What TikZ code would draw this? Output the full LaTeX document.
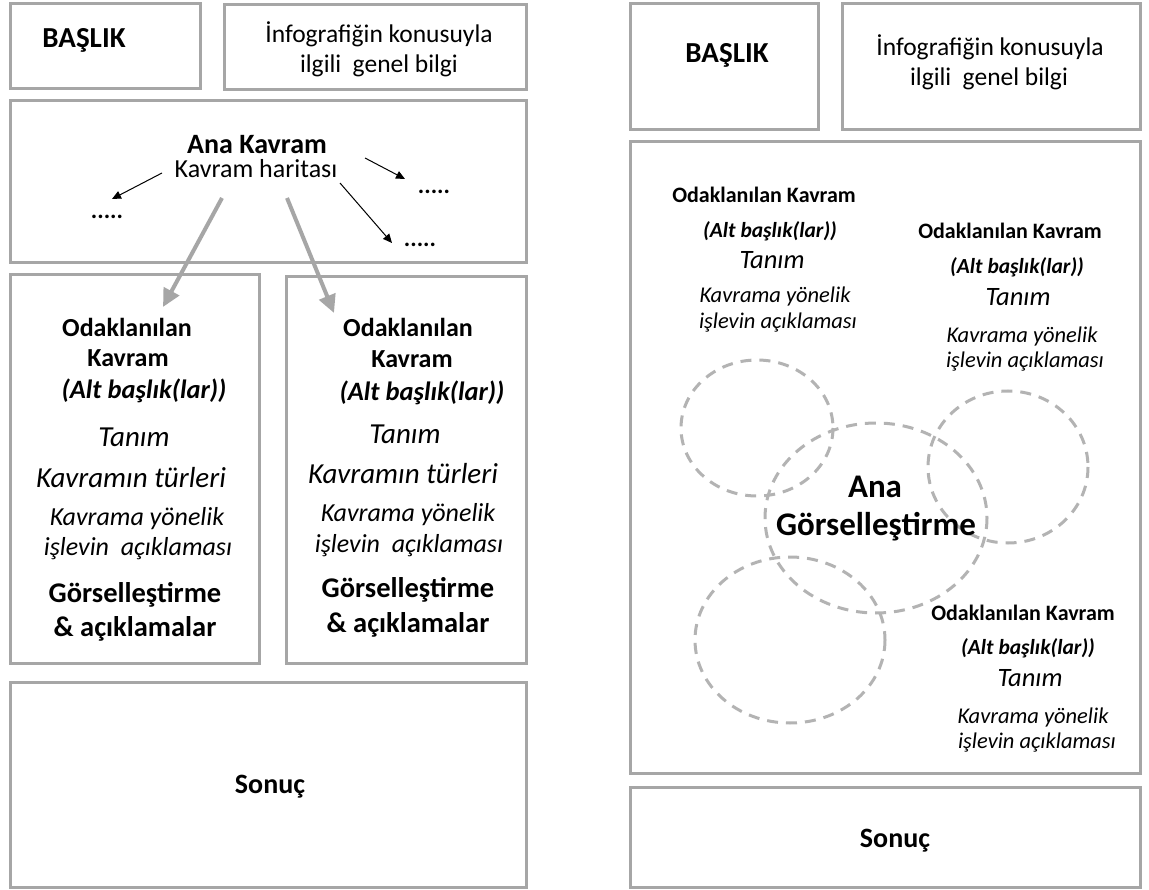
\documentclass[tikz,border=0pt]{standalone}
\usepackage{fontspec}
\setmainfont{Carlito}
\usetikzlibrary{arrows.meta}
\definecolor{boxgray}{HTML}{A6A6A6}
\definecolor{dashgray}{HTML}{B3B3B3}
\tikzset{
  panel/.style={draw=boxgray,line width=3pt},
  txt/.style={inner sep=0pt,anchor=center,text=black},
  fs/.style={font=\fontsize{#1}{#1}\selectfont},
  fsb/.style={font=\fontsize{#1}{#1}\selectfont\bfseries},
  fsi/.style={font=\fontsize{#1}{#1}\selectfont\itshape},
  fsbi/.style={font=\fontsize{#1}{#1}\selectfont\bfseries\itshape},
  thinarrow/.style={draw=black,line width=1pt,-{Triangle[length=9pt,width=8pt]}},
  grayarrow/.style={draw=boxgray,line width=4pt,-{Triangle[length=18pt,width=17pt]}},
  blob/.style={draw=dashgray,line width=3pt,dash pattern=on 11pt off 8pt},
}
\begin{document}
\begin{tikzpicture}[x=1pt,y=-1pt]
\useasboundingbox (0,0) rectangle (1149,890);
\fill[white] (0,0) rectangle (1149,890);

% ---------- LEFT PANEL ----------
\draw[panel] (10,4) rectangle (200,89);
\draw[panel] (224,5) rectangle (526,90);
\draw[panel] (10,101) rectangle (526,263);
\draw[panel] (10,275) rectangle (259,663);
\draw[panel] (286,277) rectangle (526,663);
\draw[panel] (10,682) rectangle (526,887);

\node[txt,fsb=29] (lbaslik) at (84,40) {BAŞLIK};
\node[txt,fs=25.5] (linfo1) at (379,34) {İnfografiğin konusuyla};
\node[txt,fs=25.5] (linfo2) at (379,66) {ilgili\hspace{0.45em}genel bilgi};

\node[txt,fsb=28] (anakavram) at (257,145) {Ana Kavram};
\node[txt,fs=26] (harita) at (256,169) {Kavram haritası};
\node[txt,fsb=24] (dotsA) at (107,217) {.....};
\node[txt,fsb=24] (dotsB) at (434,192) {.....};
\node[txt,fsb=24] (dotsC) at (420,245) {.....};

\coordinate (hL) at (162,173);
\coordinate (hR1) at (365,158);
\coordinate (hR2) at (340,183);
\coordinate (tA) at (112,199);
\coordinate (tB) at (405,179);
\coordinate (tC) at (392,243);
\draw[thinarrow] (hL) -- (tA);
\draw[thinarrow] (hR1) -- (tB);
\draw[thinarrow] (hR2) -- (tC);

% left odak box
\node[txt,fsb=26] (lo1) at (127,327) {Odaklanılan};
\node[txt,fsb=26] (lo2) at (128,358) {Kavram};
\node[txt,fsbi=26.5] (lo3) at (144,391) {(Alt başlık(lar))};
\node[txt,fsi=29] (lo4) at (134,437) {Tanım};
\node[txt,fsi=29] (lo5) at (131,478) {Kavramın türleri};
\node[txt,fsi=26] (lo6) at (137,519) {Kavrama yönelik};
\node[txt,fsi=26] (lo7) at (138,549) {işlevin\hspace{0.45em}açıklaması};
\node[txt,fsb=28.5] (lo8) at (135,595) {Görselleştirme};
\node[txt,fsb=28.5] (lo9) at (135,629) {\& açıklamalar};

% right odak box
\node[txt,fsb=26] (ro1) at (408,327) {Odaklanılan};
\node[txt,fsb=26] (ro2) at (412,359) {Kavram};
\node[txt,fsbi=26.5] (ro3) at (422,393) {(Alt başlık(lar))};
\node[txt,fsi=29] (ro4) at (405,434) {Tanım};
\node[txt,fsi=29] (ro5) at (403,474) {Kavramın türleri};
\node[txt,fsi=26] (ro6) at (408,515) {Kavrama yönelik};
\node[txt,fsi=26] (ro7) at (409,546) {işlevin\hspace{0.45em}açıklaması};
\node[txt,fsb=28.5] (ro8) at (408,590) {Görselleştirme};
\node[txt,fsb=28.5] (ro9) at (408,625) {\& açıklamalar};

\coordinate (gs1) at (222,198);
\coordinate (gs2) at (287,198);
\coordinate (ge1) at (163,307);
\coordinate (ge2) at (334,313);
\draw[grayarrow] (gs1) -- (ge1);
\draw[grayarrow] (gs2) -- (ge2);

\node[txt,fsb=28] (lsonuc) at (270,787) {Sonuç};

% ---------- RIGHT PANEL ----------
\draw[panel] (630,4) rectangle (818,130);
\draw[panel] (842,4) rectangle (1140,130);
\draw[panel] (630,142) rectangle (1140,773);
\draw[panel] (630,787) rectangle (1140,887);

\node[txt,fsb=29] (rbaslik) at (727,55) {BAŞLIK};
\node[txt,fs=25.5] (rinfo1) at (990,47) {İnfografiğin konusuyla};
\node[txt,fs=25.5] (rinfo2) at (989,79) {ilgili\hspace{0.45em}genel bilgi};

% dashed shapes
\draw[blob] (757,428) ellipse [x radius=76, y radius=68];
\draw[blob] (1008,467) ellipse [x radius=80, y radius=76];
\draw[blob] (790,640) ellipse [x radius=95, y radius=83];
\draw[blob] (876,518) ellipse [x radius=111, y radius=95];

\node[txt,fsb=33] (ana1) at (875,487) {Ana};
\node[txt,fsb=33] (ana2) at (876,527) {Görselleştirme};

% top-left group
\node[txt,fsb=22] (a1) at (764,195) {Odaklanılan Kavram};
\node[txt,fsbi=21.5] (a2) at (770,231) {(Alt başlık(lar))};
\node[txt,fsi=26.5] (a3) at (772,260) {Tanım};
\node[txt,fsi=22.5] (a4) at (775,297) {Kavrama yönelik};
\node[txt,fsi=22.5] (a5) at (778,323) {işlevin açıklaması};

% top-right group
\node[txt,fsb=22] (b1) at (1010,231) {Odaklanılan Kavram};
\node[txt,fsbi=21.5] (b2) at (1017,267) {(Alt başlık(lar))};
\node[txt,fsi=26.5] (b3) at (1018,297) {Tanım};
\node[txt,fsi=22.5] (b4) at (1022,337) {Kavrama yönelik};
\node[txt,fsi=22.5] (b5) at (1025,362) {işlevin açıklaması};

% bottom-right group
\node[txt,fsb=22] (c1) at (1023,613) {Odaklanılan Kavram};
\node[txt,fsbi=21.5] (c2) at (1028,648) {(Alt başlık(lar))};
\node[txt,fsi=26.5] (c3) at (1030,678) {Tanım};
\node[txt,fsi=22.5] (c4) at (1033,717) {Kavrama yönelik};
\node[txt,fsi=22.5] (c5) at (1037,743) {işlevin açıklaması};

\node[txt,fsb=28] (rsonuc) at (895,841) {Sonuç};
\end{tikzpicture}
\end{document}
